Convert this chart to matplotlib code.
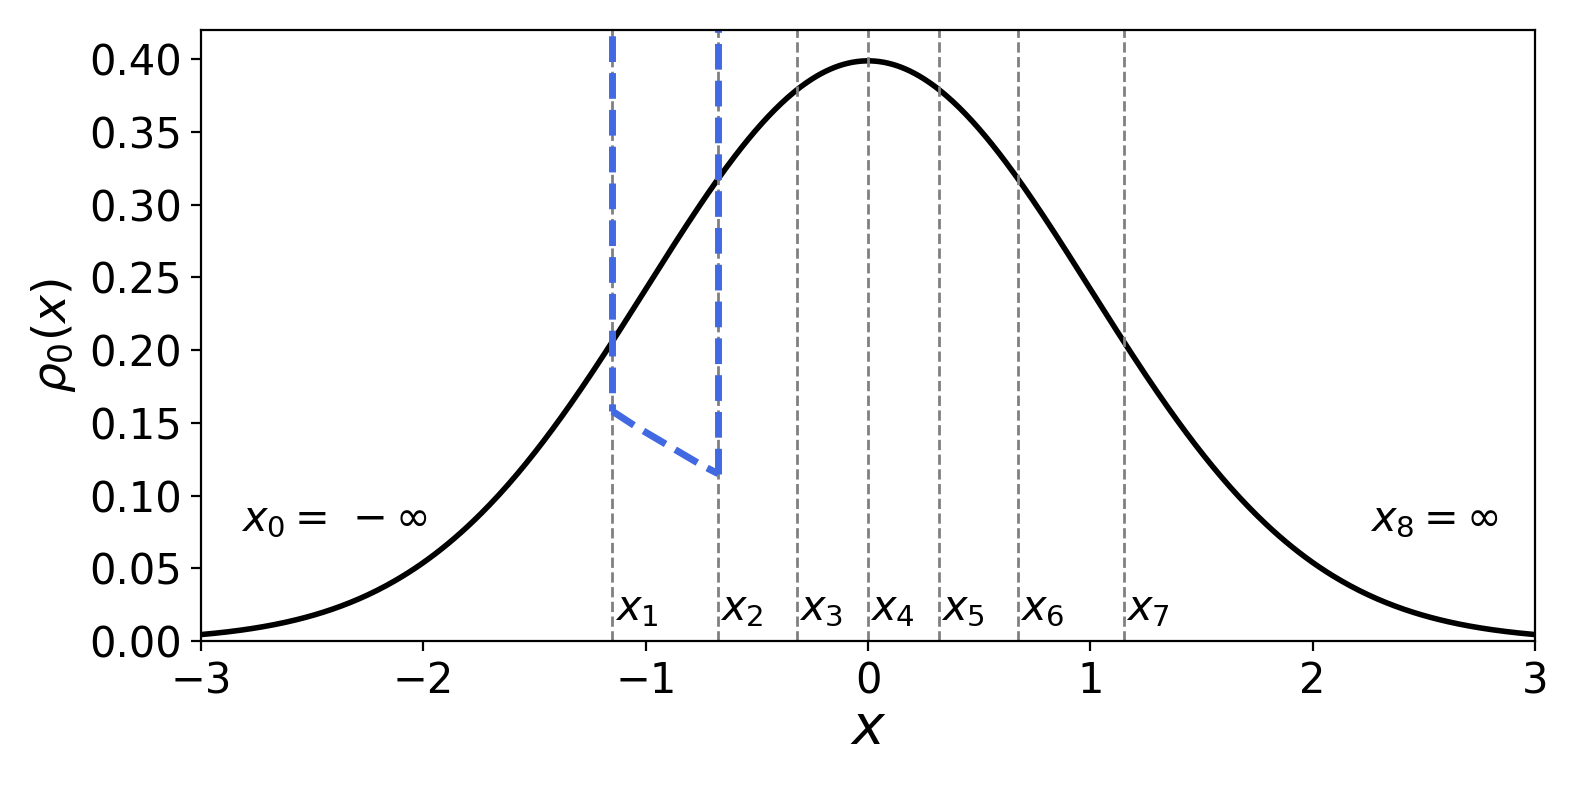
import numpy as np
import matplotlib
matplotlib.use("Agg")
import matplotlib.pyplot as plt

# quantile boundaries of the standard normal (8 equal-probability bins)
quantiles = [-1.150, -0.674, -0.319, 0.0, 0.319, 0.674, 1.150]
labels = [r"$x_1$", r"$x_2$", r"$x_3$", r"$x_4$", r"$x_5$", r"$x_6$", r"$x_7$"]

# blue dashed segment between x1 and x2
seg_x = [-1.150, -1.05, -0.95, -0.85, -0.75, -0.674]
seg_y = [0.158, 0.148, 0.139, 0.130, 0.121, 0.115]

xs = np.linspace(-3, 3, 601)
pdf = np.exp(-xs**2 / 2) / np.sqrt(2 * np.pi)

fig = plt.figure(figsize=(1578/200, 789/200), dpi=200)
ax = fig.add_axes([0.1275, 0.1876, 0.8452, 0.7741])

ax.plot(xs, pdf, color="black", lw=2)
for q, lab in zip(quantiles, labels):
    ax.axvline(q, color="gray", ls="--", lw=1)
    ax.text(q + 0.01, 0.008, lab, fontsize=15, ha="left", va="bottom")

ax.plot([seg_x[0], seg_x[0]], [0.5, seg_y[0]], color="royalblue", ls="--", lw=2.5)
ax.plot(seg_x, seg_y, color="royalblue", ls="--", lw=2.5)
ax.plot([seg_x[-1], seg_x[-1]], [seg_y[-1], 0.5], color="royalblue", ls="--", lw=2.5)

ax.text(-2.82, 0.084, r"$x_0 =\, -\,\!\infty$", fontsize=15, ha="left", va="center")
ax.text(2.26, 0.084, r"$x_8 = \infty$", fontsize=15, ha="left", va="center")

ax.set_xlim(-3, 3)
ax.set_ylim(0, 0.42)
ax.set_xticks([-3, -2, -1, 0, 1, 2, 3])
ax.set_yticks(np.arange(0, 0.41, 0.05))
ax.set_yticklabels([f"{v:.2f}" for v in np.arange(0, 0.41, 0.05)])
ax.tick_params(labelsize=15)
ax.set_xlabel(r"$x$", fontsize=20, labelpad=0)
ax.set_ylabel(r"$\rho_0(x)$", fontsize=17)

fig.savefig("out.png", dpi=200)
